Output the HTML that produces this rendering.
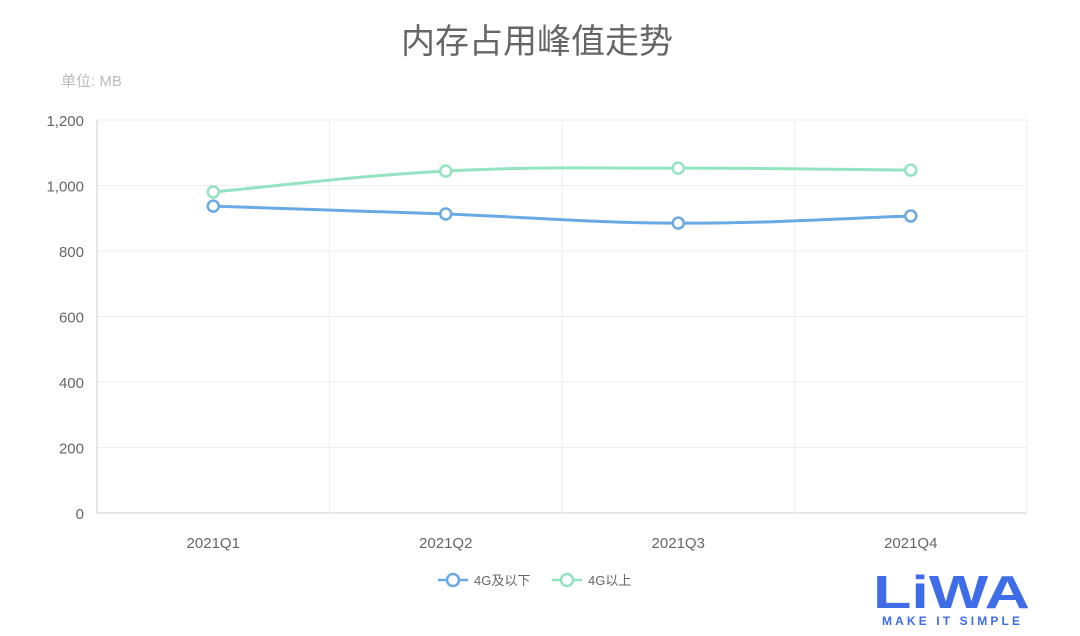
<!DOCTYPE html>
<html><head><meta charset="utf-8"><style>
body{margin:0;background:#fff;width:1080px;height:631px;overflow:hidden;font-family:"Liberation Sans","Noto Sans CJK SC",sans-serif}
</style></head><body>
<svg id="chart" width="1080" height="631" xmlns="http://www.w3.org/2000/svg" font-family="Liberation Sans, Noto Sans CJK SC, sans-serif">
<text x="537" y="53" text-anchor="middle" font-size="34" fill="#666">内存占用峰值走势</text>
<text x="61" y="86" font-size="15" fill="#bbb">单位: MB</text>
<g id="grid"></g><g id="series"></g>
<g>
<g>
<line x1="438" y1="580" x2="468" y2="580" stroke="#6aaae4" stroke-width="2.5"/><circle cx="453" cy="580" r="6" fill="#fff" stroke="#6aaae4" stroke-width="2.5"/>
<text x="474" y="585" font-size="13" fill="#666">4G及以下</text></g>
<g>
<line x1="552" y1="580" x2="582" y2="580" stroke="#94e3c0" stroke-width="2.5"/><circle cx="567" cy="580" r="6" fill="#fff" stroke="#94e3c0" stroke-width="2.5"/>
<text x="588" y="585" font-size="13" fill="#666">4G以上</text></g>
</g>
<g>
<text x="873" y="608" font-size="46" font-weight="bold" fill="#3f6de8" font-family="Liberation Sans, sans-serif" textLength="157" lengthAdjust="spacingAndGlyphs">LiWA</text>
<text x="882" y="625" font-size="12" font-weight="bold" fill="#3f6de8" textLength="138" lengthAdjust="spacing">MAKE IT SIMPLE</text>
</g>
</svg>
<script>
const categories=["2021Q1","2021Q2","2021Q3","2021Q4"];
const below=[937,913,885,907];
const above=[980,1044,1053,1047];
const yTicks=[0,200,400,600,800,1000,1200];
const NS="http://www.w3.org/2000/svg";
const L=97,R=1027,T=120,B=513,yMax=1200;
const bw=(R-L)/categories.length;
const xs=i=>L+bw*(i+0.5);
const ys=v=>B-(v/yMax)*(B-T);
const grid=document.getElementById('grid'),ser=document.getElementById('series');
function mk(t,a,p){const e=document.createElementNS(NS,t);for(const k in a)e.setAttribute(k,a[k]);p.appendChild(e);return e;}
yTicks.forEach(v=>{
 const g=mk('line',{x1:L,x2:R,y1:ys(v),y2:ys(v),stroke:v===0?'#ccc':'#eee'},grid);
 
 
 const t=mk('text',{x:84,y:ys(v)+6,'text-anchor':'end','font-size':15,fill:'#666'},grid);
 t.textContent=v.toLocaleString('en-US');
 
 
});
for(let i=0;i<=categories.length;i++){
 const g=mk('line',{x1:L+bw*i,x2:L+bw*i,y1:T,y2:B,stroke:i===0?'#ccc':'#eee'},grid);
 
 
}
categories.forEach((c,i)=>{
 const t=mk('text',{x:xs(i),y:548,'text-anchor':'middle','font-size':15,fill:'#666'},grid);
 t.textContent=c;
 
 
});
function draw(vals,color,name){
 const p=vals.map((v,i)=>[xs(i),ys(v)]);
 let d=`M${p[0][0]},${p[0][1]}`;const s=0.2;
 for(let i=0;i<p.length-1;i++){
  const p0=p[i-1]||p[i],p1=p[i],p2=p[i+1],p3=p[i+2]||p2;
  const c1=[p1[0]+(p2[0]-p0[0])*s,p1[1]+(p2[1]-p0[1])*s];
  const c2=[p2[0]-(p3[0]-p1[0])*s,p2[1]-(p3[1]-p1[1])*s];
  d+=` C${c1[0]},${c1[1]} ${c2[0]},${c2[1]} ${p2[0]},${p2[1]}`;
 }
 const path=mk('path',{d:d,fill:'none',stroke:color,'stroke-width':3},ser);
 
 
 p.forEach(q=>{
  const c=mk('circle',{cx:q[0],cy:q[1],r:5.5,fill:'#fff',stroke:color,'stroke-width':2.5},ser);
  
  
 });
}
draw(below,'#6aaae4','series-4g-below');
draw(above,'#94e3c0','series-4g-above');
</script>
</body></html>
